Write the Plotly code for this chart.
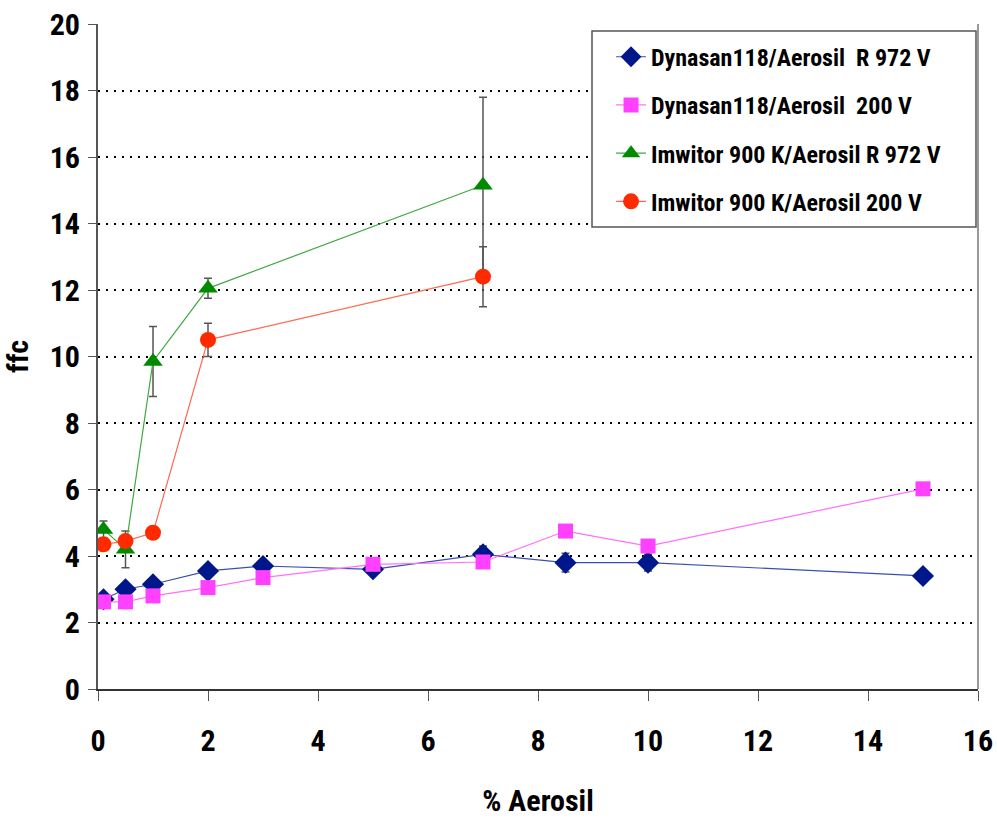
import plotly.graph_objects as go

# % Aerosil content
x_dyn = [0.1, 0.5, 1, 2, 3, 5, 7, 8.5, 10, 15]
x_imw = [0.1, 0.5, 1, 2, 7]

# ffc values and standard deviations
ffc_dyn_r972 = [2.7, 3.0, 3.15, 3.55, 3.7, 3.6, 4.05, 3.8, 3.8, 3.4]
err_dyn_r972 = [0, 0, 0, 0, 0, 0, 0.25, 0.28, 0.25, 0]

ffc_dyn_200 = [2.62, 2.62, 2.8, 3.05, 3.35, 3.75, 3.82, 4.75, 4.3, 6.02]
err_dyn_200 = [0, 0, 0, 0, 0, 0, 0, 0, 0, 0]

ffc_imw_r972 = [4.8, 4.2, 9.85, 12.05, 15.15]
err_imw_r972 = [0.25, 0.55, 1.05, 0.3, 2.65]

ffc_imw_200 = [4.35, 4.45, 4.7, 10.5, 12.4]
err_imw_200 = [0.1, 0.1, 0.1, 0.5, 0.9]

names = [
    "Dynasan118/Aerosil  R 972 V",
    "Dynasan118/Aerosil  200 V",
    "Imwitor 900 K/Aerosil R 972 V",
    "Imwitor 900 K/Aerosil 200 V",
]

FONT = "Liberation Sans Narrow, Arial Narrow, Roboto Condensed, Liberation Sans, Arial"

series = [
    (x_dyn, ffc_dyn_r972, err_dyn_r972, "#00178C", "#3A4FB0", "diamond", 17),
    (x_dyn, ffc_dyn_200, err_dyn_200, "#FF40FF", "#FF70FF", "square", 15),
    (x_imw, ffc_imw_r972, err_imw_r972, "#008A00", "#40A840", "triangle-up", 17),
    (x_imw, ffc_imw_200, err_imw_200, "#FF2A00", "#FF6A50", "circle", 16),
]

fig = go.Figure()
for i, (xs, ys, es, mcol, lcol, sym, size) in enumerate(series):
    fig.add_trace(go.Scatter(
        x=xs, y=ys, name=names[i], legendgroup=f"g{i}",
        mode="lines+markers",
        line=dict(color=lcol, width=1.2),
        marker=dict(color=mcol, symbol=sym, size=size, line=dict(width=0)),
        error_y=dict(type="data", array=es, visible=True,
                     color="#555555", thickness=1.5, width=4),
    ))

fig.update_layout(
    width=997, height=818,
    margin=dict(l=98, r=19, t=24, b=129),
    paper_bgcolor="white", plot_bgcolor="white",
    font=dict(family=FONT, color="black"),
    showlegend=True,
    legend=dict(
        x=0.583, xanchor="left", y=0.984, yanchor="top",
        bgcolor="rgba(0,0,0,0)", borderwidth=0,
        font=dict(family=FONT, size=24, color="black", weight="bold"),
        tracegroupgap=14, traceorder="grouped", itemwidth=30,
    ),
    xaxis=dict(
        range=[0, 16], dtick=2, tick0=0, automargin=False,
        showgrid=False, zeroline=False,
        showline=True, linecolor="#333333", linewidth=2,
        mirror=False,
        ticks="outside", ticklen=10, tickcolor="#555555", tickwidth=1,
        ticklabelstandoff=14,
        tickfont=dict(family=FONT, size=30, weight="bold"),
        title=dict(text="% Aerosil", standoff=48,
                   font=dict(family=FONT, size=30, weight="bold")),
    ),
    yaxis=dict(
        range=[0, 20], dtick=2, tick0=0, automargin=False,
        showgrid=True, gridcolor="black", griddash="2px,6px", gridwidth=1.5,
        zeroline=False,
        showline=True, linecolor="#555555", linewidth=2,
        ticks="outside", ticklen=8, tickcolor="#555555", tickwidth=1,
        ticklabelstandoff=2,
        tickfont=dict(family=FONT, size=30, weight="bold"),
        title=dict(text="ffc", standoff=16,
                   font=dict(family=FONT, size=30, weight="bold")),
    ),
)

# white legend panel with grey frame (drawn below the legend entries)
fig.add_shape(type="rect", xref="paper", yref="paper", layer="above",
              x0=(592 - 98) / 880, x1=(976 - 98) / 880,
              y0=(689 - 227) / 665, y1=(689 - 31) / 665,
              fillcolor="white", line=dict(color="#555555", width=1.5))

# right-hand frame line of the plot area
fig.add_shape(type="line", xref="paper", yref="paper",
              x0=1, x1=1, y0=0, y1=1,
              line=dict(color="#777777", width=1.5))

fig.write_html("out.html")
